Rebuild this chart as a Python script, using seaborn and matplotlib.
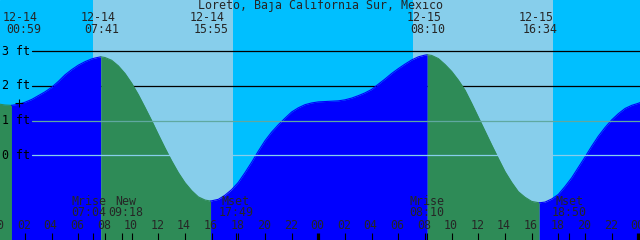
import matplotlib
matplotlib.use("Agg")
import matplotlib.pyplot as plt
import seaborn as sns
import pandas as pd
from matplotlib.transforms import blended_transform_factory

# ---------------- data ----------------
title = "Loreto, Baja California Sur, Mexico"

# tide curve (hours since 12-14 00:00, feet)
tide_hours = [0, 0.5, 0.983, 1.5, 2, 2.5, 3, 3.5, 4, 4.5, 5, 5.5, 6, 6.5, 7, 7.3,
              7.683, 8, 8.5, 9, 9.5, 10, 10.5, 11, 11.5, 12, 12.5, 13, 13.5, 14,
              14.5, 15, 15.5, 15.917, 16.5, 17, 17.5, 18, 18.5, 19, 19.5, 20,
              20.5, 21, 21.5, 22, 22.5, 23, 23.5, 24, 24.5, 25, 25.5, 26, 26.5,
              27, 27.5, 28, 28.5, 29, 29.5, 30, 30.5, 31, 31.5, 32, 32.167, 32.5,
              33, 33.5, 34, 34.5, 35, 35.5, 36, 36.5, 37, 37.5, 38, 38.5, 39,
              39.5, 40, 40.567, 41, 41.5, 42, 42.5, 43, 43.5, 44, 44.5, 45, 45.5,
              46, 46.5, 47, 47.5, 48, 48.125]
tide_feet = [1.48, 1.45, 1.44, 1.47, 1.53, 1.61, 1.72, 1.83, 1.96, 2.13, 2.32,
             2.47, 2.60, 2.70, 2.78, 2.81, 2.84, 2.82, 2.74, 2.58, 2.36, 2.08,
             1.75, 1.38, 1.00, 0.60, 0.21, -0.16, -0.50, -0.79, -1.02, -1.20,
             -1.29, -1.32, -1.27, -1.15, -0.99, -0.78, -0.50, -0.20, 0.12, 0.42,
             0.67, 0.88, 1.07, 1.25, 1.37, 1.46, 1.51, 1.54, 1.55, 1.56, 1.57,
             1.60, 1.65, 1.72, 1.80, 1.90, 2.05, 2.20, 2.36, 2.50, 2.63, 2.75,
             2.84, 2.89, 2.90, 2.88, 2.79, 2.62, 2.42, 2.17, 1.88, 1.50, 1.10,
             0.70, 0.30, -0.09, -0.47, -0.78, -1.05, -1.21, -1.33, -1.37, -1.35,
             -1.26, -1.13, -0.90, -0.65, -0.35, -0.05, 0.26, 0.55, 0.80, 1.02,
             1.20, 1.35, 1.44, 1.50, 1.52]

# high / low tide events
event_hours = [0.983, 7.683, 15.917, 32.167, 40.567]
event_dates = ["12-14", "12-14", "12-14", "12-15", "12-15"]
event_times = ["00:59", "07:41", "15:55", "08:10", "16:34"]

# daylight (sunrise, sunset) in hours
day_start = [7.08, 31.08]
day_end = [17.58, 41.58]

# moon events
moon_hours = [7.067, 9.3, 17.817, 32.167, 42.833]
moon_names = ["Mrise", "New", "Mset", "Mrise", "Mset"]
moon_times = ["07:04", "09:18", "17:49", "08:10", "18:50"]
moon_shift_px = [-3.7, 3.3, 0, 0, 0]

# axis
level_ft = [3, 2, 1, 0]
level_labels = ["3 ft", "2 ft", "1 ft", "0 ft"]
level_colors = ["black", "black", "#5FA8A0", "#87CEEB"]
hour_ticks = list(range(0, 49, 2))
hour_labels = ["%02d" % (h % 24) for h in hour_ticks]

mark_hour = [1.575]
mark_feet = [1.50]

# ---------------- style ----------------
W, H = 640, 240
T0, T1 = 0.125, 48.125
Y0, Y1 = -2.443, 4.479
PXH = W / (T1 - T0)

NIGHT = "#00BFFF"
DAY = "#87CEEB"
FLOOD = "#0000FF"
EBB = "#2E8B57"

sns.set_style("white")
plt.rcParams["font.family"] = ["DejaVu Sans Mono", "DejaVu Sans"]
FS = 8.4

fig = plt.figure(figsize=(W / 100, H / 100), dpi=100)
ax = fig.add_axes([0, 0, 1, 1])
ax.add_patch(plt.Rectangle((0, 0), 1, 1, transform=ax.transAxes,
                           color=NIGHT, zorder=0))
for s, e in zip(day_start, day_end):
    ax.axvspan(s, e, color=DAY, lw=0, zorder=0.5)

xa = blended_transform_factory(ax.transData, ax.transAxes)
ay = blended_transform_factory(ax.transAxes, ax.transData)

# depth lines
for lv, lab, col in zip(level_ft, level_labels, level_colors):
    z = 1 if col == "black" else 3
    ax.axhline(lv, xmin=32.3 / W, xmax=1, color=col, lw=0.9, zorder=z)
    ax.text(1.7 / W, lv, lab, transform=ay, ha="left", va="center",
            fontsize=FS, color="black", zorder=5)

# tide fill (flood = rising blue, ebb = falling green)
df = pd.DataFrame({"hour": tide_hours, "feet": tide_feet})
bounds = [tide_hours[0]] + event_hours + [tide_hours[-1]]
for b0, b1 in zip(bounds[:-1], bounds[1:]):
    seg = df[(df.hour >= b0) & (df.hour <= b1)]
    rising = seg.feet.iloc[-1] > seg.feet.iloc[0]
    col = FLOOD if rising else EBB
    ax.fill_between(seg.hour, seg.feet, Y0 - 1, color=col, lw=0, zorder=2)
    sns.lineplot(data=seg, x="hour", y="feet", color=col, lw=0.8, ax=ax,
                 zorder=2.1, estimator=None, sort=False, legend=False)

ax.set_xlim(T0, T1)
ax.set_ylim(Y0, Y1)
ax.set_axis_off()

ax.plot(mark_hour, mark_feet, marker="+", ms=5.2, mew=0.8, color="black",
        ls="none", zorder=4)

# title
ax.text(0.5, 1 - 5.7 / H, title, transform=ax.transAxes, ha="center",
        va="center", fontsize=FS, zorder=5)

# tide event labels
for t, d, tm in zip(event_hours, event_dates, event_times):
    px = (t - T0) * PXH
    left = max(px - 17, 6)
    ax.text(left / W, 1 - 29.3 / H, tm, transform=ax.transAxes, ha="left",
            va="center", fontsize=FS, zorder=5)
    ax.text((left - 3.5) / W, 1 - 17.3 / H, d, transform=ax.transAxes,
            ha="left", va="center", fontsize=FS, zorder=5)

# moon labels
for t, n, tm, sh in zip(moon_hours, moon_names, moon_times, moon_shift_px):
    px = (t - T0) * PXH + sh
    ax.text(px / W, 1 - 201.3 / H, n, transform=ax.transAxes, ha="center",
            va="center", fontsize=FS, zorder=5)
    ax.text(px / W, 1 - 212.6 / H, tm, transform=ax.transAxes, ha="center",
            va="center", fontsize=FS, zorder=5)
    ax.vlines(t, 0, 7 / H, transform=xa, color="black", lw=0.8, zorder=5)

# hour ticks and labels
for h, lab in zip(hour_ticks, hour_labels):
    lw = 2.3 if h % 24 == 0 else 0.8
    ax.vlines(h, 0, 7 / H, transform=xa, color="black", lw=lw, zorder=5)
    ax.text(h - 1 / PXH, 1 - 225.7 / H, lab, transform=xa, ha="center",
            va="center", fontsize=FS, zorder=5)

fig.savefig("out.png", dpi=100)
